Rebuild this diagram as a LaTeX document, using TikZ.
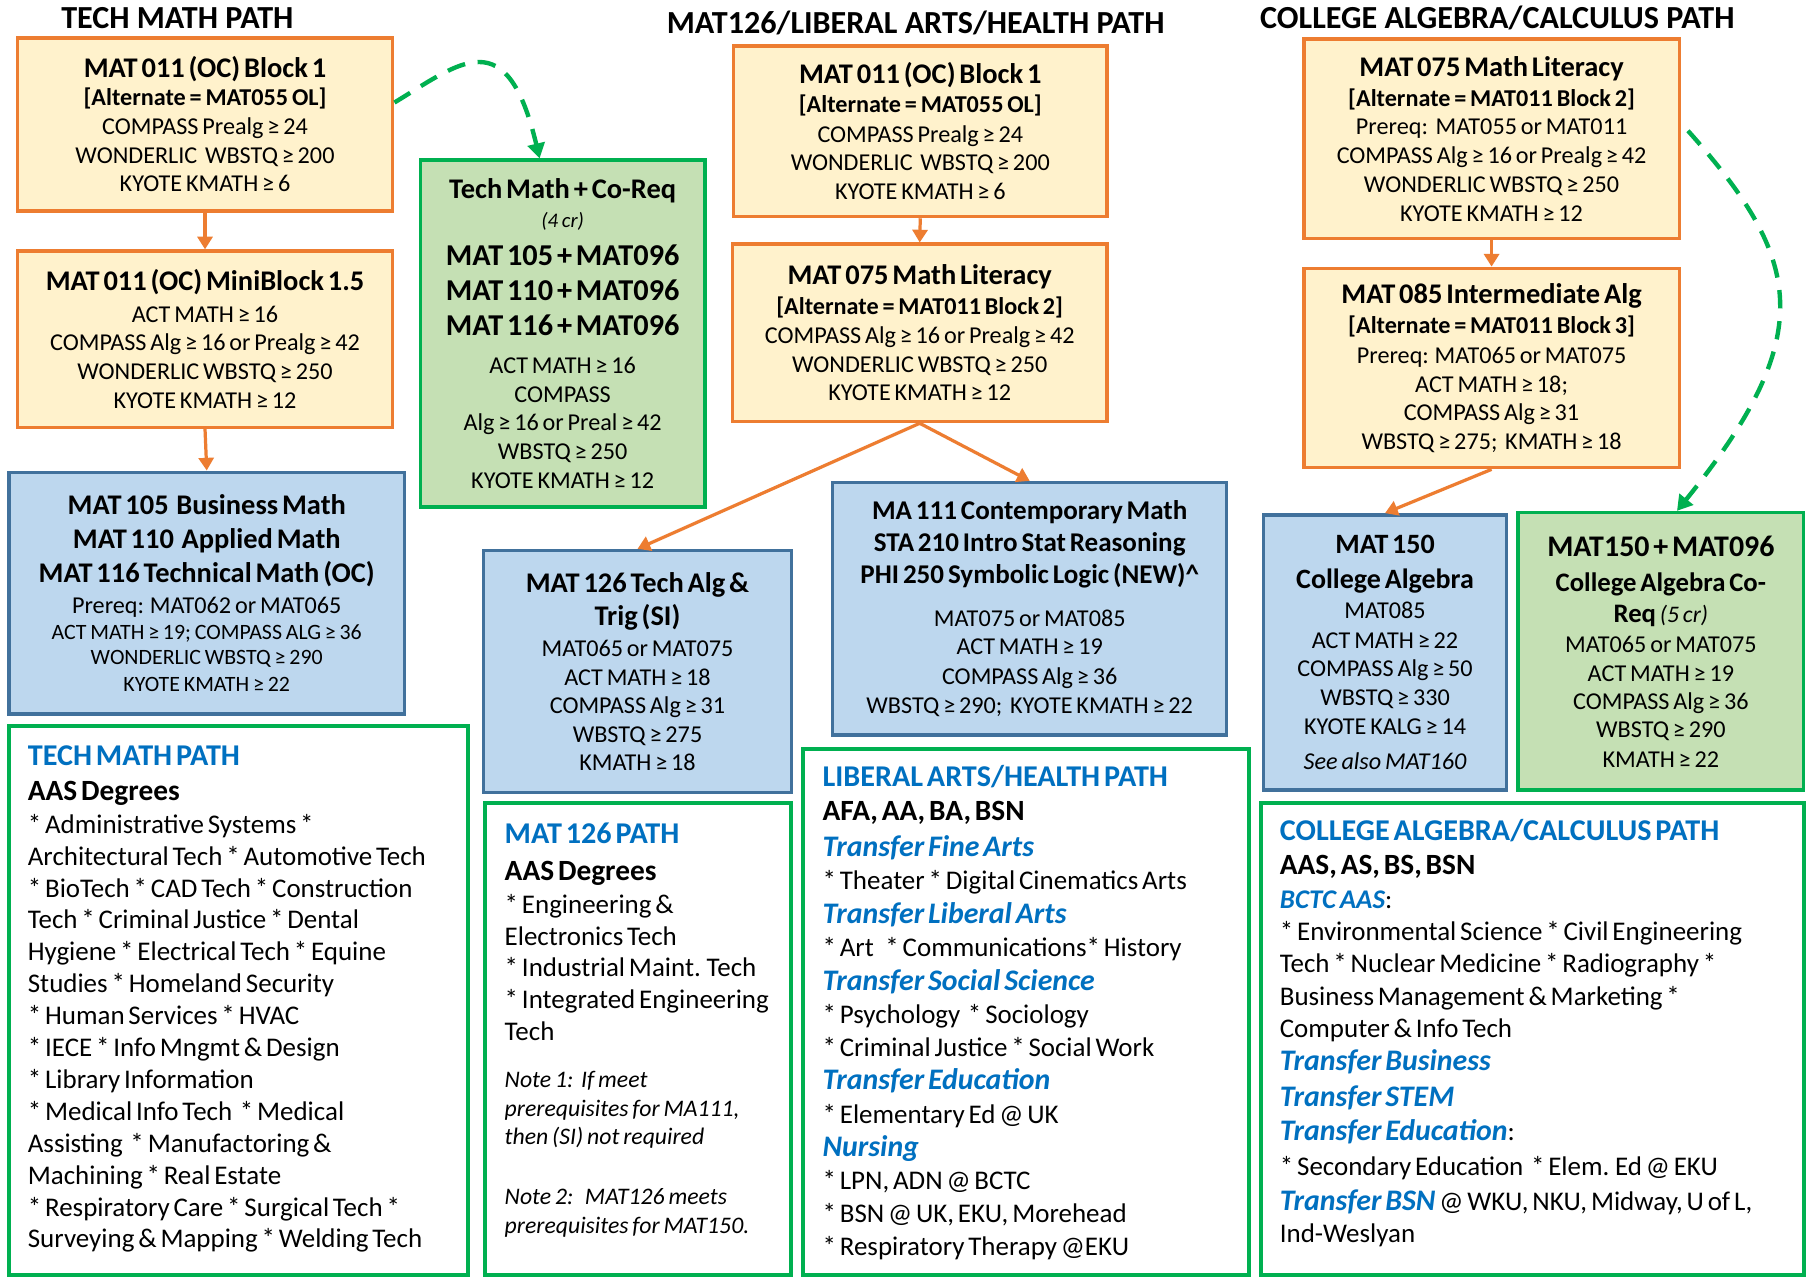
\documentclass[tikz,border=0pt]{standalone}
\usepackage{fontspec}
\setmainfont{Carlito}
\usetikzlibrary{arrows.meta}
\setlength\parindent{0pt}
\setlength\parskip{0pt}
\definecolor{orangeb}{HTML}{ED7D31}
\definecolor{yellowf}{HTML}{FFF2CC}
\definecolor{blueb}{HTML}{41719C}
\definecolor{bluef}{HTML}{BDD7EE}
\definecolor{greenb}{HTML}{00B050}
\definecolor{greenf}{HTML}{C5E0B4}
\definecolor{headblue}{HTML}{0070C0}
% box lines: #1 = baselineskip
\newcommand\LH[2]{{\fontsize{24.7}{#1}\selectfont\bfseries #2\par}}
\newcommand\LHs[2]{{\fontsize{23.5}{#1}\selectfont\bfseries #2\par}}
\newcommand\LA[2]{{\fontsize{21}{#1}\selectfont\bfseries #2\par}}
\newcommand\LB[2]{{\fontsize{21}{#1}\selectfont #2\par}}
\newcommand\LS[2]{{\fontsize{19}{#1}\selectfont #2\par}}
\newcommand\LC[2]{{\fontsize{26.3}{#1}\selectfont\bfseries #2\par}}
\newcommand\LI[2]{{\fontsize{18}{#1}\selectfont\itshape #2\par}}
% bottom text boxes
\newcommand\EH[2]{{\fontsize{26.2}{#1}\selectfont\bfseries\color{headblue}#2\par}}
\newcommand\EB[2]{{\fontsize{25.5}{#1}\selectfont\bfseries #2\par}}
\newcommand\ET[2]{{\fontsize{25.9}{#1}\selectfont\bfseries\itshape\color{headblue}#2\par}}
\newcommand\EL[2]{{\fontsize{23.4}{#1}\selectfont #2\par}}
\newcommand\EN[2]{{\fontsize{20.6}{#1}\selectfont\itshape #2\par}}
\newcommand\tbl[1]{{\bfseries\itshape\color{headblue}#1}}
\tikzset{
  ybox/.style={draw=orangeb, fill=yellowf, line width=3pt, inner sep=0pt, align=center},
  bbox/.style={draw=blueb, fill=bluef, line width=3pt, inner sep=0pt, align=center},
  gbox/.style={draw=greenb, fill=greenf, line width=3pt, inner sep=0pt, align=center},
  wbox/.style={draw=greenb, fill=white, line width=3.5pt, inner sep=0pt},
  etext/.style={anchor=north west, inner sep=0pt, align=left, text width=#1},
  ptitle/.style={font=\fontsize{27.9}{32}\selectfont\bfseries, inner sep=0pt},
  oarrow/.style={draw=orangeb, line width=2.8pt, -{Triangle[length=11pt,width=13pt]}},
  gdash/.style={draw=greenb, line width=3.8pt, dash pattern=on 16pt off 11pt, -{Triangle[length=13pt,width=15pt]}},
}
\begin{document}
\begin{tikzpicture}[x=1pt, y=-1pt]
\useasboundingbox (0,0) rectangle (1568,1109);
\fill[white] (0,0) rectangle (1568,1109);

% titles
\node[ptitle] (T1) at (154,16) {TECH MATH PATH};
\node[ptitle] (T2) at (795,20) {MAT126/LIBERAL ARTS/HEALTH PATH};
\node[ptitle] (T3) at (1300,16) {COLLEGE ALGEBRA/CALCULUS PATH};

% ---- tech math column
\node[ybox, minimum width=326pt, minimum height=150pt, text width=316pt] (A1) at (178,108)
 {\LH{28}{MAT 011 (OC) Block 1}\LA{24}{[Alternate = MAT055 OL]}\LB{25}{COMPASS Prealg ≥ 24}\LB{25}{WONDERLIC\ \ WBSTQ ≥ 200}\LB{25}{KYOTE KMATH ≥ 6}};
\node[ybox, minimum width=326pt, minimum height=153pt, text width=316pt] (A2) at (178,294.5)
 {\LH{28}{MAT 011 (OC) MiniBlock 1.5}\LB{27}{ACT MATH ≥ 16}\LB{25}{COMPASS Alg ≥ 16 or Prealg ≥ 42}\LB{25}{WONDERLIC WBSTQ ≥ 250}\LB{25}{KYOTE KMATH ≥ 12}};
\node[bbox, minimum width=343pt, minimum height=210pt, text width=333pt] (A3) at (179.5,515)
 {\LH{28}{MAT 105\ \ Business Math}\LH{29}{MAT 110\ \ Applied Math}\LH{29.5}{MAT 116 Technical Math (OC)}\LB{27}{Prereq: MAT062 or MAT065}\LS{23}{ACT MATH ≥ 19; COMPASS ALG ≥ 36}\LS{22}{WONDERLIC WBSTQ ≥ 290}\LS{23}{KYOTE KMATH ≥ 22}};
\node[gbox, minimum width=247pt, minimum height=301pt, text width=237pt] (B) at (488.5,289.5)
 {\LH{28}{Tech Math + Co-Req}\LI{25}{(4 cr)}\LC{33}{MAT 105 + MAT096}\LC{30.5}{MAT 110 + MAT096}\LC{30.5}{MAT 116 + MAT096}\LB{33}{ACT MATH ≥ 16}\LB{25}{COMPASS}\LB{25}{Alg ≥ 16 or Preal ≥ 42}\LB{25}{WBSTQ ≥ 250}\LB{25}{KYOTE KMATH ≥ 12}};

% ---- middle column
\node[ybox, minimum width=324pt, minimum height=148pt, text width=314pt] (C1) at (799,114)
 {\LH{28}{MAT 011 (OC) Block 1}\LA{25}{[Alternate = MAT055 OL]}\LB{25.5}{COMPASS Prealg ≥ 24}\LB{25}{WONDERLIC\ \ WBSTQ ≥ 200}\LB{25}{KYOTE KMATH ≥ 6}};
\node[ybox, minimum width=325pt, minimum height=154pt, text width=315pt] (C2) at (798.5,289)
 {\LH{28}{MAT 075 Math Literacy}\LA{26}{[Alternate = MAT011 Block 2]}\LB{25}{COMPASS Alg ≥ 16 or Prealg ≥ 42}\LB{25}{WONDERLIC WBSTQ ≥ 250}\LB{25}{KYOTE KMATH ≥ 12}};
\node[bbox, minimum width=267pt, minimum height=210pt, text width=257pt] (C3) at (553.5,583)
 {\LH{28}{MAT 126 Tech Alg \&}\LH{29}{Trig (SI)}\LB{26.5}{MAT065 or MAT075}\LB{25.5}{ACT MATH ≥ 18}\LB{24.6}{COMPASS Alg ≥ 31}\LB{24.6}{WBSTQ ≥ 275}\LB{24.6}{KMATH ≥ 18}};
\node[bbox, minimum width=342pt, minimum height=219pt, text width=332pt] (C4) at (894,528.5)
 {\LHs{28}{MA 111 Contemporary Math}\LHs{27.5}{STA 210 Intro Stat Reasoning}\LHs{27.5}{PHI 250 Symbolic Logic (NEW)\^{}}\LB{37.7}{MAT075 or MAT085}\LB{24.5}{ACT MATH ≥ 19}\LB{25.5}{COMPASS Alg ≥ 36}\LB{25.2}{WBSTQ ≥ 290;\ \ KYOTE KMATH ≥ 22}};

% ---- right column
\node[ybox, minimum width=326pt, minimum height=173pt, text width=316pt] (D1) at (1295,120.5)
 {\LH{28}{MAT 075 Math Literacy}\LA{26}{[Alternate = MAT011 Block 2]}\LB{25}{Prereq:\ \ MAT055 or MAT011}\LB{25}{COMPASS Alg ≥ 16 or Prealg ≥ 42}\LB{25}{WONDERLIC WBSTQ ≥ 250}\LB{25}{KYOTE KMATH ≥ 12}};
\node[ybox, minimum width=326pt, minimum height=173pt, text width=316pt] (D2) at (1295,319.5)
 {\LH{28}{MAT 085 Intermediate Alg}\LA{26}{[Alternate = MAT011 Block 3]}\LB{26}{Prereq: MAT065 or MAT075}\LB{25}{ACT MATH ≥ 18;}\LB{24.5}{COMPASS Alg ≥ 31}\LB{25}{WBSTQ ≥ 275;\ \ KMATH ≥ 18}};
\node[bbox, minimum width=211pt, minimum height=239pt, text width=201pt] (D3) at (1202.5,566.5)
 {{\fontsize{24.3}{28}\selectfont\bfseries MAT 150\par}{\fontsize{24.3}{30.4}\selectfont\bfseries College Algebra\par}\LB{26}{MAT085}\LB{26}{ACT MATH ≥ 22}\LB{24.7}{COMPASS Alg ≥ 50}\LB{24.6}{WBSTQ ≥ 330}\LB{25.1}{KYOTE KALG ≥ 14}{\fontsize{21}{30.7}\selectfont\itshape See also MAT160\par}};
\node[gbox, minimum width=248pt, minimum height=241pt, text width=238pt] (D4) at (1442,565.5)
 {{\fontsize{26}{28}\selectfont\bfseries MAT150 + MAT096\par}{\fontsize{23.2}{30.4}\selectfont\bfseries College Algebra Co-\par}{\fontsize{23.2}{27.5}\selectfont\bfseries Req {\mdseries\itshape\fontsize{20.6}{27.5}\selectfont (5 cr)}\par}\LB{26}{MAT065 or MAT075}\LB{24.6}{ACT MATH ≥ 19}\LB{24.6}{COMPASS Alg ≥ 36}\LB{24.6}{WBSTQ ≥ 290}\LB{25.5}{KMATH ≥ 22}};

% ---- bottom text boxes
\node[wbox, minimum width=398pt, minimum height=477pt] (E1) at (207,868.5) {};
\node[etext=380pt] (E1t) at (24,647)
 {\EH{30}{TECH MATH PATH}\EB{31}{AAS Degrees}%
  \EL{28}{* Administrative Systems *}\EL{27.7}{Architectural Tech * Automotive Tech}\EL{27.7}{* BioTech * CAD Tech * Construction}\EL{27.7}{Tech * Criminal Justice * Dental}\EL{27.7}{Hygiene * Electrical Tech * Equine}\EL{27.7}{Studies * Homeland Security}\EL{27.7}{* Human Services * HVAC}\EL{27.7}{* IECE * Info Mngmt \& Design}\EL{27.7}{* Library Information}\EL{27.7}{* Medical Info Tech\ \ * Medical}\EL{27.7}{Assisting\ \ * Manufactoring \&}\EL{27.7}{Machining * Real Estate}\EL{27.7}{* Respiratory Care * Surgical Tech *}\EL{27.7}{Surveying \& Mapping * Welding Tech}};

\node[wbox, minimum width=266pt, minimum height=410pt] (E2) at (554,902) {};
\node[etext=245pt] (E2t) at (438,714)
 {\EH{30}{MAT 126 PATH}\EB{32}{AAS Degrees}%
  \EL{29}{* Engineering \&}\EL{27.5}{Electronics Tech}\EL{27.5}{* Industrial Maint. Tech}\EL{27.5}{* Integrated Engineering}\EL{27.5}{Tech}%
  \EN{41}{Note 1:\ \ If meet}\EN{25}{prerequisites for MA111,}\EN{25}{then (SI) not required}\EN{52}{Note 2:\ \ \ MAT126 meets}\EN{25}{prerequisites for MAT150.}};

\node[wbox, minimum width=387pt, minimum height=457pt] (E3) at (890.5,878.5) {};
\node[etext=365pt] (E3t) at (714,664)
 {\EH{30}{LIBERAL ARTS/HEALTH PATH}\EB{30}{AFA, AA, BA, BSN}%
  \ET{31}{Transfer Fine Arts}\EL{29}{* Theater * Digital Cinematics Arts}%
  \ET{29}{Transfer Liberal Arts}\EL{29}{* Art\ \ \ * Communications* History}%
  \ET{29}{Transfer Social Science}\EL{29}{* Psychology\ \ * Sociology}\EL{28.5}{* Criminal Justice * Social Work}%
  \ET{29}{Transfer Education}\EL{29}{* Elementary Ed @ UK}%
  \ET{29}{Nursing}\EL{29}{* LPN, ADN @ BCTC}\EL{28.5}{* BSN @ UK, EKU, Morehead}\EL{28.5}{* Respiratory Therapy @EKU}};

\node[wbox, minimum width=471pt, minimum height=410pt] (E4) at (1330.5,902) {};
\node[etext=450pt] (E4t) at (1111,711)
 {\EH{30}{COLLEGE ALGEBRA/CALCULUS PATH}\EB{30}{AAS, AS, BS, BSN}%
  \EL{29}{\tbl{BCTC AAS}:}\EL{28}{* Environmental Science * Civil Engineering}\EL{28}{Tech * Nuclear Medicine * Radiography *}\EL{28}{Business Management \& Marketing *}\EL{28}{Computer \& Info Tech}%
  \ET{29}{Transfer Business}\ET{31}{Transfer STEM}\EL{30}{\tbl{\fontsize{25.9}{30}\selectfont Transfer Education}:}%
  \EL{30}{* Secondary Education\ \ * Elem. Ed @ EKU}\EL{30}{\tbl{\fontsize{25.9}{30}\selectfont Transfer BSN} @ WKU, NKU, Midway, U of L,}\EL{28}{Ind-Weslyan}};

% ---- connectors
\draw[oarrow] (A1.south) -- (A2.north);
\draw[oarrow] (A2.south) -- (A3.north);
\draw[oarrow] (C1.south) -- (C2.north);
\draw[oarrow] (C2.south) -- (C3.north);
\draw[oarrow] (C2.south) -- (C4.north);
\draw[oarrow] (D1.south) -- (D2.north);
\draw[oarrow] (D2.south) -- (D3.north);
\draw[gdash] ([yshift=19pt]A1.east) .. controls (400,54) and (440,18) .. ([xshift=-20pt]B.north);
\draw[gdash] ([shift={(6pt,7pt)}]D1.east) .. controls (1565,225) and (1580,290) .. ([xshift=14pt]D4.north);
\end{tikzpicture}
\end{document}
